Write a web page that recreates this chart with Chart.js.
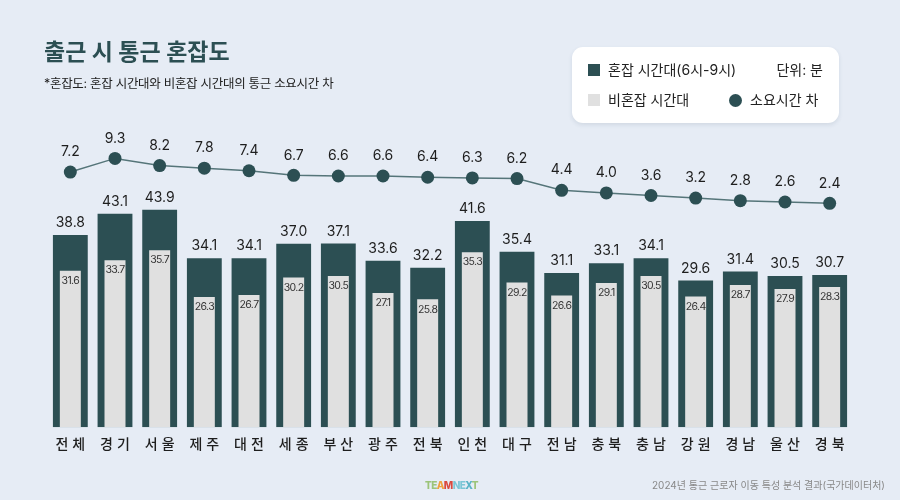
<!DOCTYPE html>
<html lang="ko">
<head>
<meta charset="utf-8">
<script src="https://cdn.jsdelivr.net/npm/chart.js@4"></script>
<style>
  html, body { margin: 0; padding: 0; background: #e6ecf5; }
  #wrap { position: relative; width: 900px; height: 500px; background: #e6ecf5; overflow: hidden;
          font-family: Inter, "Noto Sans CJK KR", "Noto Sans", sans-serif; color: #222; }
  #c { position: absolute; left: 0; top: 0; width: 900px; height: 500px; }
  .abs { position: absolute; white-space: nowrap; }
  #title { left: 44px; top: 37px; font-size: 23px; line-height: 30px; font-weight: 700; color: #2c4f53; }
  #sub { left: 44px; top: 75px; font-size: 12.5px; line-height: 18px; letter-spacing: -0.3px; color: #222; }
  #legend { left: 572px; top: 47px; width: 267px; height: 76px; background: #fff; border-radius: 11px;
            box-shadow: 0 2px 4px rgba(60,80,110,0.12); }
  .lg { font-size: 14px; line-height: 18px; color: #222; }
  .sq { position: absolute; width: 12px; height: 12px; }
  .dot { position: absolute; width: 13px; height: 13px; border-radius: 50%; background: #2c4f53; }
  #src { right: 15px; top: 478px; font-size: 10px; line-height: 14px; color: #888; }
  #logo { left: 425px; top: 478px; font-size: 10px; line-height: 14px; font-weight: 800; letter-spacing: -0.6px; }
</style>
</head>
<body>
<div id="wrap">
  <canvas id="c" width="900" height="500"></canvas>
  <div id="title" class="abs">출근 시 통근 혼잡도</div>
  <div id="sub" class="abs">*혼잡도: 혼잡 시간대와 비혼잡 시간대의 통근 소요시간 차</div>
  <div id="legend" class="abs">
    <div class="sq" style="left:16px;top:17px;background:#2c4f53"></div>
    <div class="abs lg" style="left:36px;top:14px">혼잡 시간대(6시-9시)</div>
    <div class="abs lg" style="right:16px;top:14px">단위: 분</div>
    <div class="sq" style="left:16px;top:47px;background:#e0e0e0"></div>
    <div class="abs lg" style="left:36px;top:44px">비혼잡 시간대</div>
    <div class="dot" style="left:157px;top:47px"></div>
    <div class="abs lg" style="left:178px;top:44px">소요시간 차</div>
  </div>
  <div id="logo" class="abs"><span style="color:#9cc47a">TE</span><span style="color:#f0a240">A</span><span style="color:#d9493f">M</span><span style="color:#7cc6d6">NE</span><span style="color:#5ab3c6">X</span><span style="color:#9cc47a">T</span></div>
  <div id="src" class="abs">2024년 통근 근로자 이동 특성 분석 결과(국가데이터처)</div>
</div>
<script>
const categories = ["전체","경기","서울","제주","대전","세종","부산","광주","전북","인천","대구","전남","충북","충남","강원","경남","울산","경북"];
const peakMinutes = [38.8,43.1,43.9,34.1,34.1,37.0,37.1,33.6,32.2,41.6,35.4,31.1,33.1,34.1,29.6,31.4,30.5,30.7];
const offPeakMinutes = [31.6,33.7,35.7,26.3,26.7,30.2,30.5,27.1,25.8,35.3,29.2,26.6,29.1,30.5,26.4,28.7,27.9,28.3];
const diffMinutes = [7.2,9.3,8.2,7.8,7.4,6.7,6.6,6.6,6.4,6.3,6.2,4.4,4.0,3.6,3.2,2.8,2.6,2.4];

const DARK = '#2c4f53', LIGHT = '#e0e0e0';
const FONT = 'Inter, "Noto Sans CJK KR", sans-serif';

const labelPlugin = {
  id: 'valueLabels',
  afterDatasetsDraw(chart) {
    const ctx = chart.ctx;
    ctx.save();
    ctx.textAlign = 'center';
    ctx.textBaseline = 'middle';
    chart.data.datasets.forEach((ds, di) => {
      const meta = chart.getDatasetMeta(di);
      meta.data.forEach((el, i) => {
        const v = ds.data[i].toFixed(1);
        if (ds.kind === 'peak') {
          ctx.font = '400 14px ' + FONT; ctx.fillStyle = '#1e1e1e';
          ctx.letterSpacing = '0px';
          ctx.fillText(v, el.x, el.y - 12);
        } else if (ds.kind === 'off') {
          ctx.font = '400 10.5px ' + FONT; ctx.fillStyle = '#333';
          ctx.letterSpacing = '-0.6px';
          ctx.fillText(v, el.x, el.y + 10);
        } else if (ds.kind === 'diff') {
          ctx.font = '400 14px ' + FONT; ctx.fillStyle = '#1e1e1e';
          ctx.letterSpacing = '0px';
          ctx.fillText(v, el.x, el.y - 20);
        }
      });
    });
    ctx.restore();
  }
};

new Chart(document.getElementById('c'), {
  type: 'bar',
  data: {
    labels: categories,
    datasets: [
      { kind: 'diff', type: 'line', label: '소요시간 차', data: diffMinutes, yAxisID: 'y2',
        borderColor: '#557579', borderWidth: 1.5, pointRadius: 6.5, pointHoverRadius: 6.5,
        pointBackgroundColor: DARK, pointBorderColor: DARK, pointBorderWidth: 0, tension: 0, order: 0 },
      { kind: 'off', label: '비혼잡 시간대', data: offPeakMinutes, yAxisID: 'y', backgroundColor: LIGHT,
        barPercentage: 0.47, categoryPercentage: 1, grouped: false, order: 1 },
      { kind: 'peak', label: '혼잡 시간대(6시-9시)', data: peakMinutes, yAxisID: 'y', backgroundColor: DARK,
        barPercentage: 0.78, categoryPercentage: 1, grouped: false, order: 2 }
    ]
  },
  options: {
    responsive: false,
    animation: false,
    devicePixelRatio: 1,
    layout: { padding: { left: 48, right: 48, top: 120, bottom: 40 } },
    plugins: { legend: { display: false }, tooltip: { enabled: false } },
    scales: {
      x: {
        grid: { display: false, drawTicks: false },
        border: { display: false },
        ticks: {
          padding: 8,
          color: '#1e1e1e',
          font: { family: '"Noto Sans CJK KR", sans-serif', size: 14, weight: '500' },
          callback: function(v, i) { return categories[i].split('').join(' \u200A'); }
        }
      },
      y: { display: false, min: 0, max: 62 },
      y2: { display: false, min: -32.0, max: 15.2 }
    }
  },
  plugins: [labelPlugin]
});
</script>
</body>
</html>
